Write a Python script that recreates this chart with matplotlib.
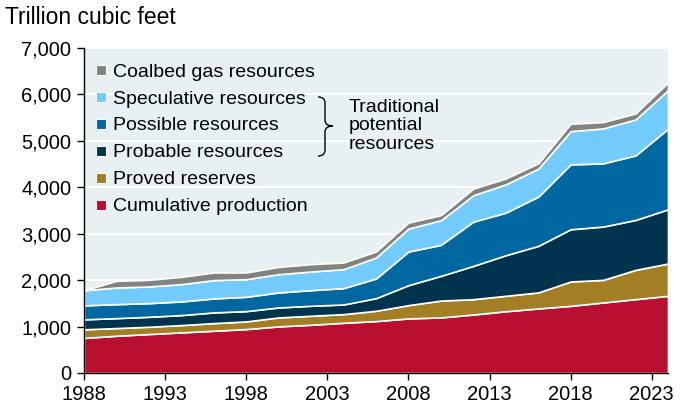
import numpy as np
import matplotlib
matplotlib.use('Agg')
import matplotlib.pyplot as plt
from matplotlib.lines import Line2D
from matplotlib.path import Path
from matplotlib.patches import PathPatch
from matplotlib.ticker import FuncFormatter

plt.rcParams['font.family'] = ['Liberation Sans', 'DejaVu Sans']

# survey years (every two years)
years = list(range(1988, 2025, 2))

# trillion cubic feet, per component
cumulative_production = [755, 803, 839, 875, 910, 946, 1004, 1039, 1082, 1118,
                         1176, 1197, 1260, 1330, 1390, 1447, 1519, 1591, 1662]
proved_reserves = [186, 165, 157, 157, 165, 165, 193, 194, 186, 222,
                   286, 363, 330, 333, 345, 524, 487, 630, 696]
probable_resources = [215, 214, 215, 215, 230, 222, 215, 215, 208, 272,
                      430, 532, 717, 874, 1003, 1125, 1148, 1076, 1168]
possible_resources = [301, 301, 294, 294, 301, 308, 323, 337, 352, 423,
                      724, 668, 953, 917, 1060, 1398, 1361, 1390, 1735]
speculative_resources = [323, 359, 359, 373, 394, 380, 394, 401, 408, 452,
                         495, 530, 570, 610, 602, 716, 753, 774, 830]
coalbed_resources = [0, 143, 142, 157, 165, 144, 157, 158, 144, 129,
                     129, 110, 141, 126, 115, 158, 136, 129, 168]

labels = ['Cumulative production', 'Proved reserves', 'Probable resources',
          'Possible resources', 'Speculative resources', 'Coalbed gas resources']
colors = ['#B80E30', '#A27F24', '#00344E', '#0067A1', '#73CBFB', '#828282']

xticks = [1988, 1993, 1998, 2003, 2008, 2013, 2018, 2023]
yticks = [0, 1000, 2000, 3000, 4000, 5000, 6000, 7000]

W, H = 686, 404
fig = plt.figure(figsize=(W / 100, H / 100), dpi=100)
ax = fig.add_axes([84 / W, 31 / H, 584 / W, 325 / H])
ax.set_facecolor('#E8F0F3')

ax.stackplot(years, cumulative_production, proved_reserves, probable_resources,
             possible_resources, speculative_resources, coalbed_resources,
             colors=colors, edgecolor='white', linewidth=1.2, zorder=2)

ax.set_xlim(1988, 2024)
ax.set_ylim(0, 7000)
ax.set_yticks(yticks)
ax.set_xticks(xticks)
ax.yaxis.set_major_formatter(FuncFormatter(lambda v, p: f'{int(v):,}'))
ax.grid(axis='y', color='white', linewidth=1.5, zorder=1)
ax.set_axisbelow(True)
for s in ['top', 'right']:
    ax.spines[s].set_visible(False)
for s in ['left', 'bottom']:
    ax.spines[s].set_color('black')
    ax.spines[s].set_linewidth(1.0)
    ax.spines[s].set_zorder(5)
ax.tick_params(axis='both', labelsize=14.5, length=5, width=1, color='black',
               direction='out', pad=4)

fig.text(5 / W, 1 - 18 / H, 'Trillion cubic feet', fontsize=16.5,
         ha='left', va='center')

# legend, top entry first
handles = [Line2D([], [], linestyle='none', marker='s', markersize=7,
                  markerfacecolor=c, markeredgecolor='white', markeredgewidth=0.8)
           for c in colors]
ax.legend(handles[::-1], labels[::-1], loc='upper left',
          bbox_to_anchor=(12 / 584, 1 - 15 / 325), frameon=False, fontsize=14,
          handlelength=0.5, handletextpad=0.35, labelspacing=0.48,
          borderaxespad=0, borderpad=0)

# brace grouping the three traditional categories
def to_fig(px, py):
    return px / W, 1 - py / H

x0, xm, xt = 318, 325, 333
yt, ymid, yb = 97, 126, 156
r = 6
pts = [(x0, yt), (xm, yt), (xm, yt + r),
       (xm, ymid - r), (xm, ymid), (xt, ymid),
       (xm, ymid), (xm, ymid + r),
       (xm, yb - r), (xm, yb), (x0, yb)]
codes = [Path.MOVETO, Path.CURVE3, Path.CURVE3,
         Path.LINETO, Path.CURVE3, Path.CURVE3,
         Path.CURVE3, Path.CURVE3,
         Path.LINETO, Path.CURVE3, Path.CURVE3]
brace = Path([to_fig(*p) for p in pts], codes)
fig.add_artist(PathPatch(brace, facecolor='none', edgecolor='black',
                         linewidth=1.0, transform=fig.transFigure))

fig.text(349 / W, 1 - 126 / H, 'Traditional\npotential\nresources',
         fontsize=14, ha='left', va='center', linespacing=1.15)

fig.savefig('out.png', dpi=100)
